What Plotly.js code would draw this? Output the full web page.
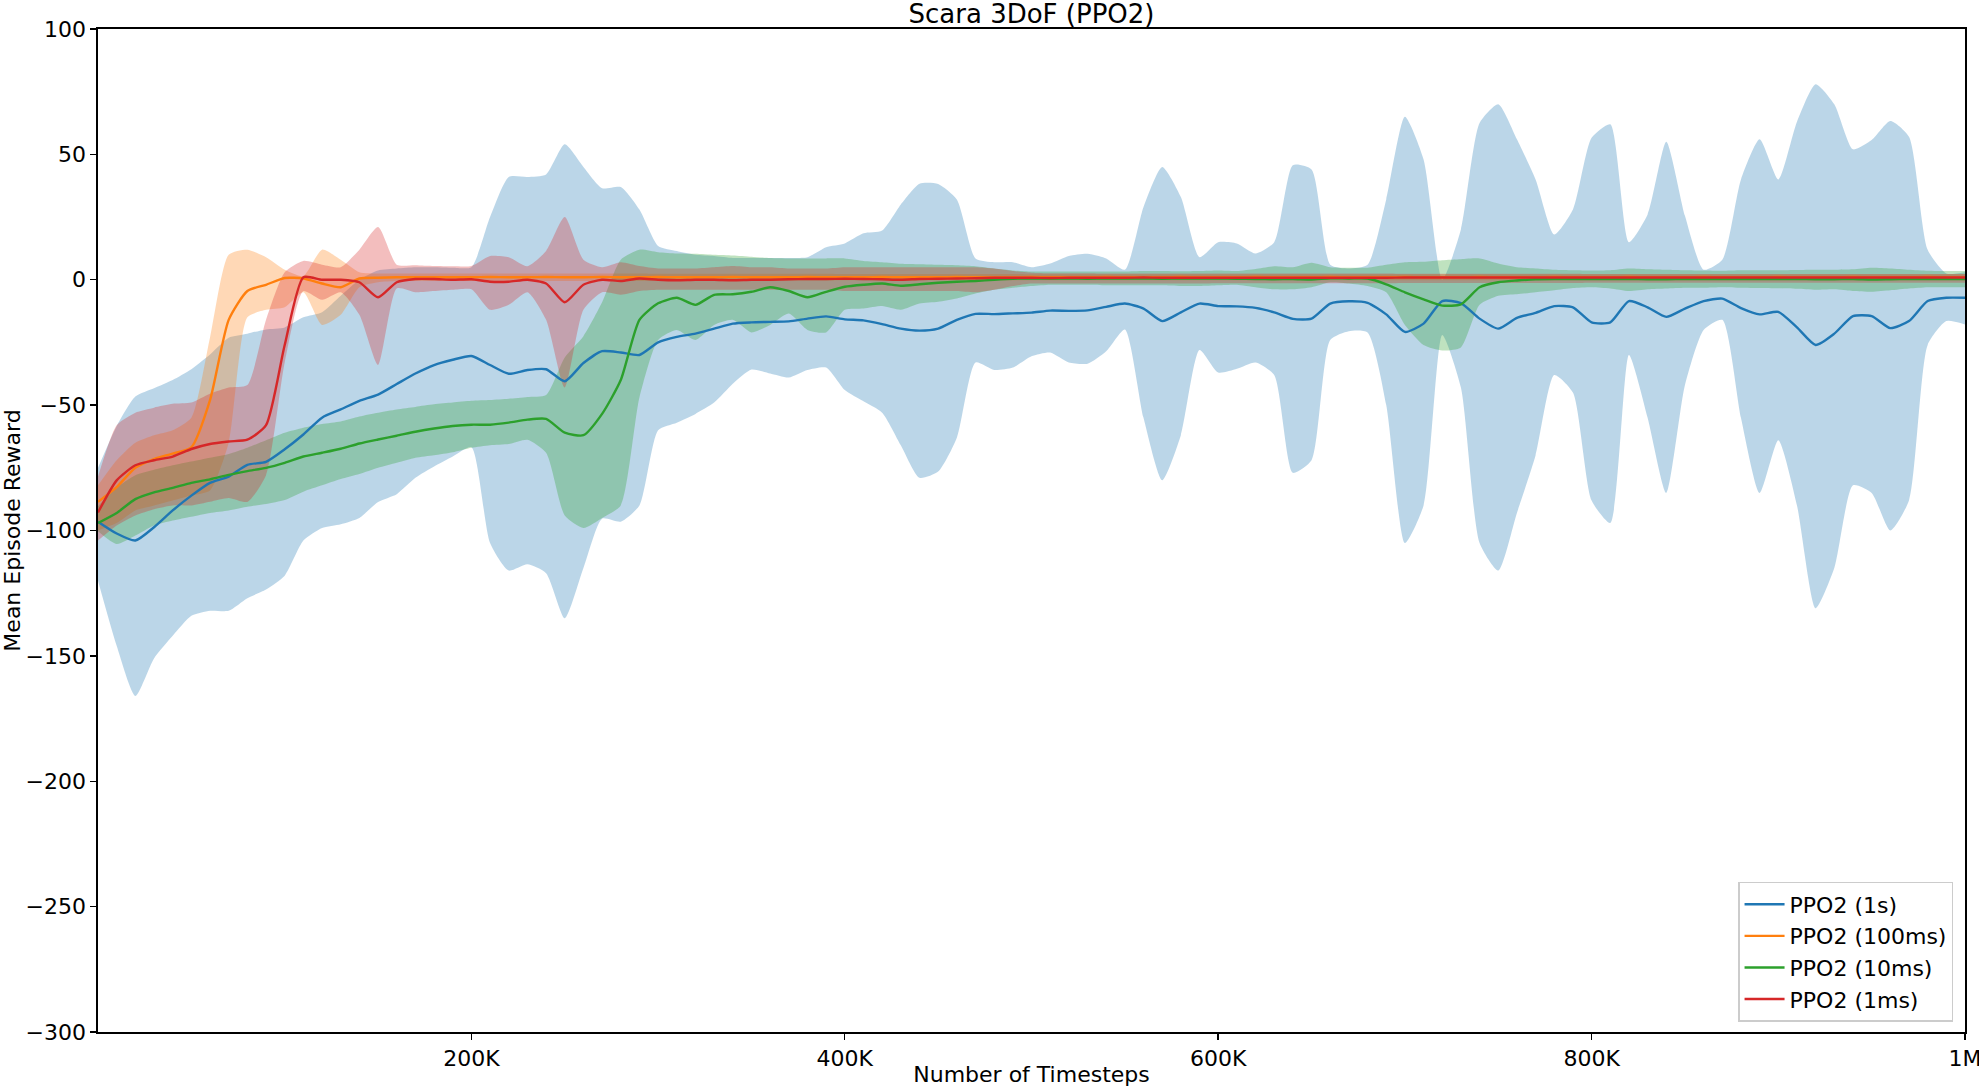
<!DOCTYPE html>
<html>
<head>
<meta charset="utf-8">
<title>Scara 3DoF (PPO2)</title>
<script src="https://cdn.plot.ly/plotly-3.0.1.min.js"></script>
<style>
  html, body { margin: 0; padding: 0; background: #ffffff; }
  #grafico { width: 1979px; height: 1087px; }
</style>
</head>
<body>
<div id="grafico"></div>
<script>
// Timesteps (in thousands), one sample every 10K
const stepsK = [
  0, 10, 20, 30, 40, 50, 60, 70, 80, 90,
  100, 110, 120, 130, 140, 150, 160, 170, 180, 190,
  200, 210, 220, 230, 240, 250, 260, 270, 280, 290,
  300, 310, 320, 330, 340, 350, 360, 370, 380, 390,
  400, 410, 420, 430, 440, 450, 460, 470, 480, 490,
  500, 510, 520, 530, 540, 550, 560, 570, 580, 590,
  600, 610, 620, 630, 640, 650, 660, 670, 680, 690,
  700, 710, 720, 730, 740, 750, 760, 770, 780, 790,
  800, 810, 820, 830, 840, 850, 860, 870, 880, 890,
  900, 910, 920, 930, 940, 950, 960, 970, 980, 990,
  1000
];

const seriesNames = ['PPO2 (1s)', 'PPO2 (100ms)', 'PPO2 (10ms)', 'PPO2 (1ms)'];

// x tick labels
const xTickVals = [200000, 400000, 600000, 800000, 1000000];
const xTickText = ['200K', '400K', '600K', '800K', '1M'];

// PPO2 (1s)
const mean1s = [
  -96.5, -101.2, -104, -98.7, -92, -86.1, -81, -78.5, -73.8, -72.6,
  -67.6, -61.7, -55, -51.7, -48.3, -45.8, -41.6, -37.4, -34, -31.9,
  -30.4, -34, -37.5, -36, -35.7, -40.5, -33.2, -28.5, -29, -30,
  -25, -22.8, -21.5, -19.5, -17.5, -17, -16.8, -16.6, -15.5, -14.6,
  -15.8, -16.2, -17.7, -19.5, -20.3, -19.5, -16, -13.6, -13.7, -13.4,
  -13.1, -12.3, -12.4, -12.2, -10.8, -9.5, -11.5, -16.5, -13, -9.5,
  -10.5, -10.6, -11.2, -13, -15.6, -15.5, -9.5, -8.6, -9.2, -13.8,
  -20.8, -17.5, -8.5, -9.3, -15.5, -19.5, -15.2, -13.2, -10.5, -11,
  -17, -17, -8.5, -11, -14.8, -11.5, -8.5, -7.5, -11.3, -13.8,
  -12.8, -19, -26, -21.5, -14.5, -14.5, -19.3, -16.5, -8.5, -7.2,
  -7.2
];
const hi1s = [
  -75, -58.4, -46.6, -43.3, -40, -35.7, -29.8, -23.1, -21.5, -19.8,
  -19, -15, -13, -6.4, 0, 3.7, 4.5, 5, 5, 4.8,
  5, 25, 41, 41, 42, 54, 45, 36.5, 37, 28,
  13.5, 11.5, 10, 9.5, 8.7, 8.7, 8.7, 8.7, 9, 13,
  14.5, 18.5, 19.6, 30, 38.3, 38.2, 32, 8.5, 7, 7,
  5, 6.5, 9.5, 10.4, 8.5, 4, 29, 45, 33, 9,
  15, 14.5, 10.5, 15, 45.7, 44, 6, 4.5, 6, 32,
  65, 48, 0, 20, 62.5, 70, 56, 40, 18, 28,
  56.6, 62, 15, 26, 55, 25.5, 4, 8, 40, 56,
  40, 63, 78, 70, 52, 55.7, 63.3, 57, 12, 2.5,
  3
];
const lo1s = [
  -120, -146, -166, -151, -142, -134, -132, -132, -127, -123.5,
  -118, -104, -99, -97.5, -95, -88.6, -85.5, -79, -74.5, -70.5,
  -66.8, -105, -116, -113.5, -117, -135, -115, -95.3, -96.5, -90,
  -60, -57, -53.5, -49, -41.5, -35.8, -37.4, -39, -36, -35,
  -44, -48.5, -53, -66, -79, -76.5, -63, -33, -36, -35,
  -30.5, -29, -33, -33.5, -28.5, -19.8, -55, -80, -62, -28,
  -37, -35.5, -33, -38, -77, -72, -24, -20.5, -21, -50,
  -105, -90, -22, -43, -105, -116, -93, -70, -38, -45,
  -88, -97, -30, -55, -85, -42, -20, -16, -55, -85,
  -64, -90, -131, -115, -82, -85, -100, -88, -26, -16.5,
  -17.8
];

// PPO2 (100ms)
const mean100ms = [
  -88.6, -82.7, -75, -71.5, -69.3, -66.8, -48, -16, -4.5, -2,
  0.7, 0.5, -1.5, -3, 0.5, 0.8, 1, 1, 1, 1,
  1, 1.1, 1, 1, 1.1, 1, 1, 1.1, 1, 1,
  1.1, 1, 1, 1, 1.1, 1, 1, 1, 1.1, 1,
  1, 1, 1.1, 1, 1, 1, 1.1, 1, 1, 1,
  1.1, 1, 1, 1, 1.1, 1, 1, 1, 1.1, 1,
  1, 1, 1.1, 1, 1, 1, 1.1, 1, 1, 1,
  1.1, 1, 1, 1, 1.1, 1, 1, 1, 1.1, 1,
  1, 1, 1.1, 1, 1, 1, 1.1, 1, 1, 1,
  1.1, 1, 1, 1, 1.1, 1, 1, 1, 1.1, 1,
  1
];
const hi100ms = [
  -82, -72, -65, -62, -60, -55, -23, 10, 12, 9,
  4, 1.5, 12, 8, 3, 2.5, 2.5, 2.5, 2.5, 2.5,
  2.5, 2.5, 2.5, 2.5, 2.5, 2.5, 2.5, 2.5, 2.5, 2.5,
  2.4, 2.4, 2.4, 2.4, 2.4, 2.4, 2.4, 2.4, 2.4, 2.4,
  2.3, 2.3, 2.3, 2.3, 2.3, 2.3, 2.3, 2.3, 2.3, 2.3,
  2.2, 2.2, 2.2, 2.2, 2.2, 2.2, 2.2, 2.2, 2.2, 2.2,
  2.2, 2.2, 2.2, 2.2, 2.2, 2.2, 2.2, 2.2, 2.2, 2.2,
  2.2, 2.2, 2.2, 2.2, 2.2, 2.2, 2.2, 2.2, 2.2, 2.2,
  2.2, 2.2, 2.2, 2.2, 2.2, 2.2, 2.2, 2.2, 2.2, 2.2,
  2.2, 2.2, 2.2, 2.2, 2.2, 2.2, 2.2, 2.2, 2.2, 2.2,
  2.2
];
const lo100ms = [
  -100, -97, -92, -90, -88, -86, -84, -65, -15, -12,
  -11, -5, -18, -14, -3, -1, -0.5, -0.5, -0.5, -0.5,
  -0.5, -0.5, -0.5, -0.5, -0.5, -0.5, -0.5, -0.5, -0.5, -0.5,
  -0.3, -0.3, -0.3, -0.3, -0.3, -0.3, -0.3, -0.3, -0.3, -0.3,
  -0.2, -0.2, -0.2, -0.2, -0.2, -0.2, -0.2, -0.2, -0.2, -0.2,
  -0.2, -0.2, -0.2, -0.2, -0.2, -0.2, -0.2, -0.2, -0.2, -0.2,
  -0.2, -0.2, -0.2, -0.2, -0.2, -0.2, -0.2, -0.2, -0.2, -0.2,
  -0.2, -0.2, -0.2, -0.2, -0.2, -0.2, -0.2, -0.2, -0.2, -0.2,
  -0.2, -0.2, -0.2, -0.2, -0.2, -0.2, -0.2, -0.2, -0.2, -0.2,
  -0.2, -0.2, -0.2, -0.2, -0.2, -0.2, -0.2, -0.2, -0.2, -0.2,
  -0.2
];

// PPO2 (10ms)
const mean10ms = [
  -97, -93, -87.5, -84.8, -83, -81, -79.6, -77.8, -76.3, -75,
  -73, -70.5, -69, -67.4, -65.3, -63.7, -62.2, -60.6, -59.3, -58.3,
  -57.8, -57.8, -57, -55.8, -55.5, -61, -62, -53.5, -40, -16,
  -9.4, -7.2, -10, -6, -5.8, -4.8, -3, -4.5, -7, -4.8,
  -2.8, -2, -1.5, -2.4, -1.8, -1.2, -0.8, -0.5, 0, 0.4,
  0.5, 0.5, 0.5, 0.4, 0.5, 0.5, 0.5, 0.4, 0.5, 0.5,
  0.5, 0.4, 0.3, 0.2, 0.3, 0.1, 0.6, 0.5, 0.5, -1.8,
  -5, -7.8, -10.3, -9.8, -3, -1, -0.3, 0.2, 0.3, 0.3,
  0.3, 0.3, 0.3, 0.2, 0.2, 0.3, 0.3, 0.3, 0.3, 0.3,
  0.3, 0.3, 0.2, 0.2, 0.3, 0.1, 0.2, 0.3, 0.3, 0.3,
  0.3
];
const hi10ms = [
  -90.3, -83, -78, -75.8, -74, -72.5, -71, -69.5, -67, -64,
  -61, -59, -57.5, -56.5, -54.5, -53, -51.7, -50.7, -49.7, -49,
  -48.3, -48, -47.5, -46.8, -46, -31, -22.5, -9, 8, 12,
  11, 10.5, 10.4, 10, 9.7, 9.2, 8.7, 8.5, 8.5, 8.5,
  8.5, 7.5, 7, 6.4, 6.2, 6, 5.8, 5.4, 4.5, 3.7,
  3.3, 3.3, 3.3, 3.3, 3.3, 3.3, 3.5, 3.5, 3.4, 3.5,
  3.7, 3.5, 4.3, 5.4, 5, 6.8, 5, 4.8, 4.8, 6,
  7, 7.2, 7.8, 8.2, 8.5, 6.5, 5, 4.5, 4, 3.8,
  3.7, 3.8, 4.5, 4.2, 4, 3.8, 3.7, 3.6, 3.8, 3.8,
  3.8, 3.9, 4, 4, 4.2, 4.8, 4.5, 4, 3.6, 3.5,
  3.5
];
const lo10ms = [
  -100.3, -105.4, -102, -98, -96, -94.5, -93, -92, -90.5, -89.4,
  -87.8, -84.5, -82, -79.5, -77.5, -75, -73, -71, -70, -68.8,
  -67, -66, -65.5, -63.8, -69, -94, -99, -95, -90, -47,
  -24, -20, -24, -18, -16, -21, -18, -13.5, -20, -21,
  -12, -11.5, -10.5, -12, -9.5, -8.8, -7.5, -5.5, -4, -3.2,
  -2.5, -2, -2, -2, -2.2, -2.2, -2.2, -2.2, -2.5, -2.5,
  -2.2, -2, -3, -3.8, -3.8, -3, -1, -1.5, -2.5, -5,
  -18, -26, -28.2, -27, -10, -6.4, -5.8, -5, -4.2, -3.3,
  -3, -3.5, -4.5, -3.8, -3.5, -3.2, -3.2, -3, -3.2, -3.3,
  -3.4, -3.6, -4, -3.8, -4.5, -4.8, -4.2, -3.5, -3, -3,
  -3
];

// PPO2 (1ms)
const mean1ms = [
  -92.8, -80, -74, -72, -70.5, -67.5, -65.5, -64.5, -63.8, -58,
  -26, 1, 0, 0, -1, -7, -1, 0.3, 0.3, 0,
  0.2, -0.8, -0.8, 0, -1.5, -9, -2, 0, -0.5, 0.5,
  0, -0.2, 0, 0, -0.2, 0, 0, 0.2, 0.3, 0.3,
  0.4, 0.3, 0.2, 0, 0.3, 0.4, 0.5, 0.6, 0.8, 0.8,
  0.8, 0.7, 0.8, 0.8, 0.8, 0.8, 0.9, 0.8, 0.8, 0.8,
  0.8, 0.8, 0.8, 0.8, 0.8, 0.8, 0.8, 0.8, 0.8, 0.8,
  0.9, 0.9, 0.9, 0.9, 0.9, 0.9, 0.9, 0.9, 0.9, 0.9,
  0.9, 0.9, 0.9, 0.9, 0.9, 0.9, 0.9, 0.9, 0.9, 0.9,
  0.9, 0.9, 0.9, 0.9, 0.9, 0.9, 0.9, 0.9, 0.9, 0.9,
  0.9
];
const hi1ms = [
  -78.5, -58, -53, -51, -49.5, -49, -45.5, -43, -42, -16,
  3, 7.5, 6, 5, 12, 21, 6, 5.8, 5.5, 5.4,
  5.5, 9.5, 9, 5.4, 11.5, 25, 8, 5, 7, 5.5,
  4.5, 4.5, 4.5, 5, 5.5, 5, 5, 4.5, 4.5, 4.5,
  5, 5, 5, 5, 5, 5, 5, 5, 4.5, 3.5,
  2.8, 2.6, 2.6, 2.6, 2.5, 2.5, 2.5, 2.5, 2.5, 2.5,
  2.5, 2.5, 2.5, 2.5, 2.5, 2.5, 2.5, 2.5, 2.5, 2.5,
  2.4, 2.4, 2.4, 2.4, 2.4, 2.4, 2.4, 2.4, 2.4, 2.4,
  2.3, 2.3, 2.3, 2.3, 2.3, 2.3, 2.3, 2.3, 2.3, 2.3,
  2.3, 2.3, 2.3, 2.3, 2.3, 2.3, 2.3, 2.3, 2.3, 2.3,
  2.3
];
const lo1ms = [
  -104, -98, -94, -91.5, -90, -90, -88.5, -87, -88.6, -78,
  -33, -4.5, -8, -5, -14, -34, -3.5, -5, -4.5, -4,
  -3.8, -12, -10, -5, -16, -43, -12, -5, -6, -4.5,
  -4, -4, -4, -4, -4, -4, -4, -4, -4, -4,
  -4.5, -4.5, -4.5, -4.5, -4.5, -4.5, -4.5, -5, -4, -2.5,
  -1.5, -1.5, -1.5, -1.5, -1.5, -1.5, -1.5, -1.5, -1.5, -1.5,
  -1.4, -1.4, -1.4, -1.4, -1.4, -1.4, -1.4, -1.4, -1.4, -1.4,
  -1.3, -1.3, -1.3, -1.3, -1.3, -1.3, -1.3, -1.3, -1.3, -1.3,
  -1.2, -1.2, -1.2, -1.2, -1.2, -1.2, -1.2, -1.2, -1.2, -1.2,
  -1.2, -1.2, -1.2, -1.2, -1.2, -1.2, -1.2, -1.2, -1.2, -1.2,
  -1.2
];

// matplotlib tab10 colors
const colores = ['#1f77b4', '#ff7f0e', '#2ca02c', '#d62728'];
const relleno = [
  'rgba(31,119,180,0.3)',
  'rgba(255,127,14,0.3)',
  'rgba(44,160,44,0.3)',
  'rgba(214,39,40,0.3)'
];

const medias = [mean1s, mean100ms, mean10ms, mean1ms];
const altos = [hi1s, hi100ms, hi10ms, hi1ms];
const bajos = [lo1s, lo100ms, lo10ms, lo1ms];

const xs = stepsK.map(k => k * 1000);

const trazas = [];

// Bands first (upper edge, then lower edge filled to it)
for (let i = 0; i < 4; i++) {
  trazas.push({
    x: xs, y: altos[i], type: 'scatter', mode: 'lines',
    line: { width: 0, color: relleno[i], shape: 'spline', smoothing: 0.6 },
    showlegend: false, hoverinfo: 'skip'
  });
  trazas.push({
    x: xs, y: bajos[i], type: 'scatter', mode: 'lines',
    line: { width: 0, color: relleno[i], shape: 'spline', smoothing: 0.6 },
    fill: 'tonexty', fillcolor: relleno[i],
    showlegend: false, hoverinfo: 'skip'
  });
}

// Mean lines on top
for (let i = 0; i < 4; i++) {
  trazas.push({
    x: xs, y: medias[i], type: 'scatter', mode: 'lines',
    name: seriesNames[i],
    line: { color: colores[i], width: 2.4, shape: 'spline', smoothing: 0.6 }
  });
}

const fuente = 'DejaVu Sans, sans-serif';

const layout = {
  width: 1979,
  height: 1087,
  paper_bgcolor: '#ffffff',
  plot_bgcolor: '#ffffff',
  font: { family: fuente, size: 22, color: '#000000' },
  margin: { l: 98, r: 14, t: 29, b: 55, pad: 0 },
  title: {
    text: 'Scara 3DoF (PPO2)',
    font: { family: fuente, size: 26, color: '#000000' },
    x: 0.5, xref: 'paper', xanchor: 'center',
    y: 0.987, yref: 'container', yanchor: 'middle'
  },
  xaxis: {
    range: [0, 1000000],
    tickvals: xTickVals,
    ticktext: xTickText,
    showgrid: false, zeroline: false,
    showline: true, linecolor: '#000000', linewidth: 1.6, mirror: true,
    ticks: 'outside', ticklen: 6, tickwidth: 1.4, tickcolor: '#000000',
    tickfont: { family: fuente, size: 22 },
    ticklabeloverflow: 'allow',
    automargin: false,
    title: { text: 'Number of Timesteps', font: { family: fuente, size: 22 }, standoff: 4 }
  },
  yaxis: {
    range: [-300, 100],
    tickvals: [-300, -250, -200, -150, -100, -50, 0, 50, 100],
    showgrid: false, zeroline: false,
    showline: true, linecolor: '#000000', linewidth: 1.6, mirror: true,
    ticks: 'outside', ticklen: 6, tickwidth: 1.4, tickcolor: '#000000',
    tickfont: { family: fuente, size: 22 },
    ticklabeloverflow: 'allow',
    automargin: false,
    title: { text: 'Mean Episode Reward', font: { family: fuente, size: 22 }, standoff: 8 }
  },
  showlegend: true,
  legend: {
    x: 0.9936, y: 0.01, xanchor: 'right', yanchor: 'bottom',
    traceorder: 'normal',
    bgcolor: 'rgba(255,255,255,0.8)',
    bordercolor: '#cccccc', borderwidth: 1.5,
    font: { family: fuente, size: 22, color: '#000000' },
    itemwidth: 40,
    tracegroupgap: 0
  }
};

Plotly.newPlot('grafico', trazas, layout, { staticPlot: true, displayModeBar: false });
</script>
</body>
</html>
